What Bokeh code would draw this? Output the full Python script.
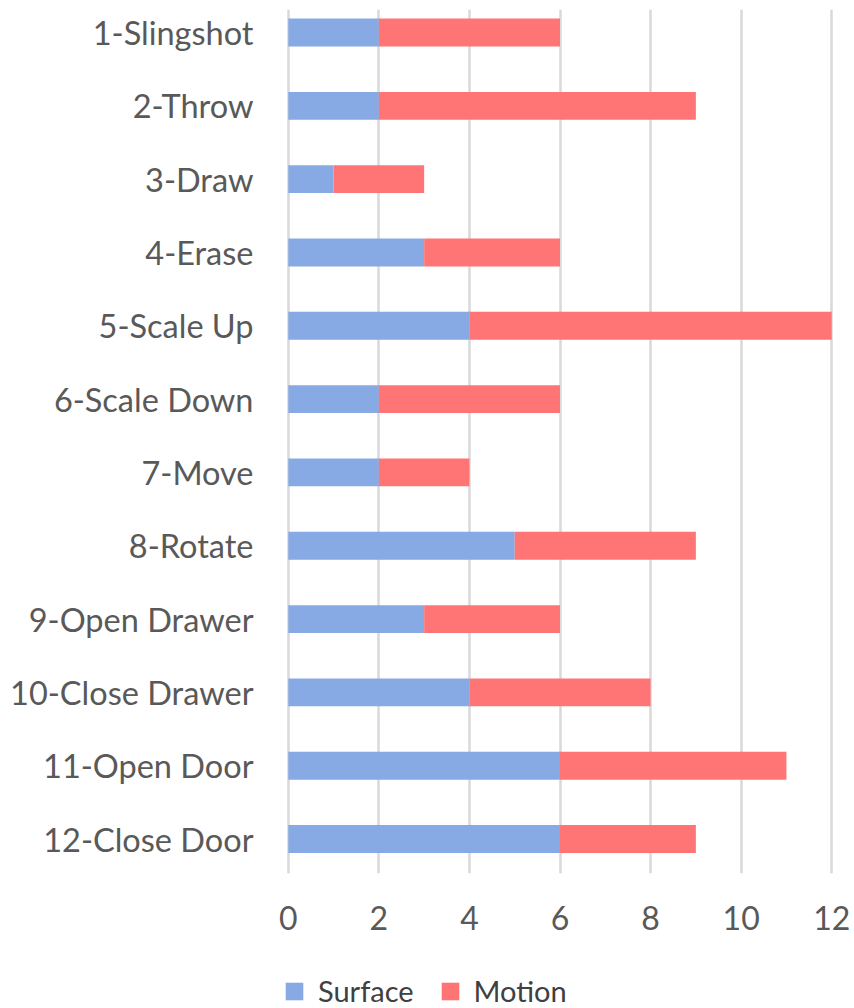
from bokeh.plotting import figure
from bokeh.layouts import column
from bokeh.models import ColumnDataSource, Range1d, FixedTicker, Legend, LegendItem
from bokeh.embed import file_html
from bokeh.resources import INLINE

# Gestures and how many participants performed each one per input mode
categories = [
    "1-Slingshot", "2-Throw", "3-Draw", "4-Erase", "5-Scale Up", "6-Scale Down",
    "7-Move", "8-Rotate", "9-Open Drawer", "10-Close Drawer", "11-Open Door",
    "12-Close Door",
]
surface = [2, 2, 1, 3, 4, 2, 2, 5, 3, 4, 6, 6]
motion = [4, 7, 2, 3, 8, 4, 2, 4, 3, 4, 5, 3]
series = ["Surface", "Motion"]
colors = ["#87A9E4", "#FF7474"]
x_ticks = [0, 2, 4, 6, 8, 10, 12]

FONT = "Lato"
LABEL_COLOR = "#595959"

rows = list(range(len(categories)))
src = ColumnDataSource(dict(row=rows, Surface=surface, Motion=motion))

p = figure(
    width=854, height=950,
    output_backend="svg", toolbar_location=None,
    x_range=Range1d(-0.15, 12.15),
    y_range=Range1d(11.47, -0.314),
    min_border_left=281, min_border_right=16,
    min_border_top=9, min_border_bottom=77,
)
p.outline_line_color = None
p.border_fill_color = "white"

p.hbar_stack(series, y="row", height=0.38, color=colors,
             line_color=None, source=src)

# vertical gridlines only
p.xgrid.ticker = FixedTicker(ticks=x_ticks)
p.xgrid.grid_line_color = "#d9d9d9"
p.xgrid.grid_line_width = 2.5
p.ygrid.visible = False

for ax in (p.xaxis[0], p.yaxis[0]):
    ax.axis_line_color = None
    ax.major_tick_line_color = None
    ax.minor_tick_line_color = None
    ax.major_label_text_font = FONT
    ax.major_label_text_color = LABEL_COLOR
    ax.major_label_text_font_size = "32px"

p.xaxis.ticker = FixedTicker(ticks=x_ticks)
p.xaxis.major_label_standoff = 26

p.yaxis.ticker = FixedTicker(ticks=rows)
p.yaxis.major_label_overrides = {i: c for i, c in zip(rows, categories)}
p.yaxis.major_label_standoff = 22
p.yaxis.major_label_text_font_size = "32.5px"

# legend strip under the chart (its frame lines up with the chart's frame)
leg = figure(
    width=854, height=58,
    output_backend="svg", toolbar_location=None,
    x_range=Range1d(0, 1), y_range=Range1d(0, 1),
    min_border=0,
)
leg.axis.visible = False
leg.grid.visible = False
leg.outline_line_color = None
# swatch sources sit outside the visible range; only their legend icons show
swatches = [leg.hbar(y=[5], left=[5], right=[6], height=0.5, color=c, line_color=None)
            for c in colors]

legend = Legend(
    items=[LegendItem(label=s, renderers=[r]) for s, r in zip(series, swatches)],
    orientation="horizontal",
    location=(2, 0),
    glyph_width=22, glyph_height=22,
    label_standoff=13, spacing=25,
    padding=0, margin=0,
    border_line_color=None, background_fill_alpha=0,
    label_text_font=FONT, label_text_font_size="29px",
    label_text_color="#404040",
)
leg.add_layout(legend, "center")

layout = column(p, leg, spacing=0)
open("out.html", "w").write(file_html(layout, INLINE))
